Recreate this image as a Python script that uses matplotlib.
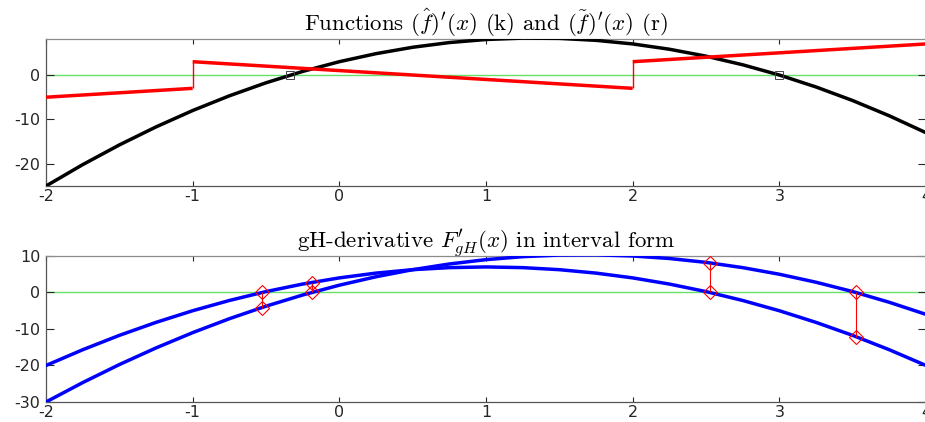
import matplotlib
matplotlib.use("Agg")
import matplotlib.pyplot as plt

plt.rcParams['mathtext.fontset'] = 'cm'
plt.rcParams['axes.unicode_minus'] = False

# sample points (step 0.25)
xs = [-2.0, -1.75, -1.5, -1.25, -1.0, -0.75, -0.5, -0.25, 0.0, 0.25, 0.5, 0.75, 1.0,
      1.25, 1.5, 1.75, 2.0, 2.25, 2.5, 2.75, 3.0, 3.25, 3.5, 3.75, 4.0]

# top panel: black curve (k)
f_hat = [-25.0, -20.19, -15.75, -11.69, -8.0, -4.69, -1.75, 0.81, 3.0, 4.81, 6.25, 7.31, 8.0,
         8.31, 8.25, 7.81, 7.0, 5.81, 4.25, 2.31, 0.0, -2.69, -5.75, -9.19, -13.0]

# top panel: red piecewise line (r)
red_seg_x = [[-2, -1], [-1, 2], [2, 4]]
red_seg_y = [[-5, -3], [3, -3], [3, 7]]
jump_x = [-1, 2]
jump_lo = [-3, -3]
jump_hi = [3, 3]

# zeros of the black curve
zero_x = [-1 / 3, 3.0]
zero_y = [0, 0]

# bottom panel: the two endpoint derivatives
curve_a = [-20.0, -15.69, -11.75, -8.19, -5.0, -2.19, 0.25, 2.31, 4.0, 5.31, 6.25, 6.81, 7.0,
           6.81, 6.25, 5.31, 4.0, 2.31, 0.25, -2.19, -5.0, -8.19, -11.75, -15.69, -20.0]
curve_b = [-30.0, -24.69, -19.75, -15.19, -11.0, -7.19, -3.75, -0.69, 2.0, 4.31, 6.25, 7.81, 9.0,
           9.81, 10.25, 10.31, 10.0, 9.31, 8.25, 6.81, 5.0, 2.81, 0.25, -2.69, -6.0]

# interval endpoints where one side crosses zero
mark_x = [-0.528, -0.189, 2.528, 3.523]
mark_lo = [-4.14, 0.0, 0.0, -12.2]
mark_hi = [0.0, 2.68, 8.1, 0.0]

tick_color = '#262626'
spine_color = '#8c8c8c'

fig = plt.figure(figsize=(9.25, 4.22), dpi=100)
ax1 = fig.add_axes([0.0497, 0.5592, 0.9514, 0.3472])
ax2 = fig.add_axes([0.0497, 0.0474, 0.9514, 0.346])

# top
ax1.axhline(0, color='#66e066', linewidth=1.0, zorder=1)
ax1.plot(xs, f_hat, color='black', linewidth=2.5, zorder=3)
for sx, sy in zip(red_seg_x, red_seg_y):
    ax1.plot(sx, sy, color='red', linewidth=2.5, zorder=4, solid_capstyle='butt')
ax1.vlines(jump_x, jump_lo, jump_hi, color='red', linewidth=1.0, zorder=4)
ax1.plot(zero_x, zero_y, linestyle='none', marker='s', markersize=6, markerfacecolor='none',
         markeredgecolor='#444444', markeredgewidth=0.7, zorder=5)
ax1.set_xlim(-2, 4)
ax1.set_ylim(-25, 8)
ax1.set_yticks([-20, -10, 0])
ax1.set_title(r"Functions $(\hat{f})'(x)$ (k) and $(\tilde{f})'(x)$ (r)",
              fontsize=16.5, family='cmr10', pad=6)

# bottom
ax2.axhline(0, color='#66e066', linewidth=1.0, zorder=1)
ax2.plot(xs, curve_a, color='blue', linewidth=2.5, zorder=3)
ax2.plot(xs, curve_b, color='blue', linewidth=2.5, zorder=3)
ax2.vlines(mark_x, mark_lo, mark_hi, color='red', linewidth=0.8, zorder=4)
ax2.plot(mark_x + mark_x, mark_lo + mark_hi, linestyle='none', marker='D', markersize=7,
         markerfacecolor='none', markeredgecolor='red', markeredgewidth=0.8, zorder=5)
ax2.set_xlim(-2, 4)
ax2.set_ylim(-30, 10)
ax2.set_yticks([-30, -20, -10, 0, 10])
ax2.set_title(r"gH-derivative $F_{gH}^{\prime}(x)$ in interval form",
              fontsize=16.5, family='cmr10', pad=6)

for ax in (ax1, ax2):
    ax.set_xticks([-2, -1, 0, 1, 2, 3, 4])
    ax.tick_params(direction='in', top=True, right=True, labelsize=11.5, colors=tick_color,
                   labelcolor=tick_color)
    ax.tick_params(axis='y', length=6, width=0.8, pad=4)
    ax.tick_params(axis='x', length=3.5, width=0.8, pad=2)
    for s in ax.spines.values():
        s.set_color(spine_color)
        s.set_linewidth(0.9)
    ax.spines['left'].set_color('#555555')
    ax.spines['bottom'].set_color('#555555')

fig.savefig('out.png', dpi=100)
